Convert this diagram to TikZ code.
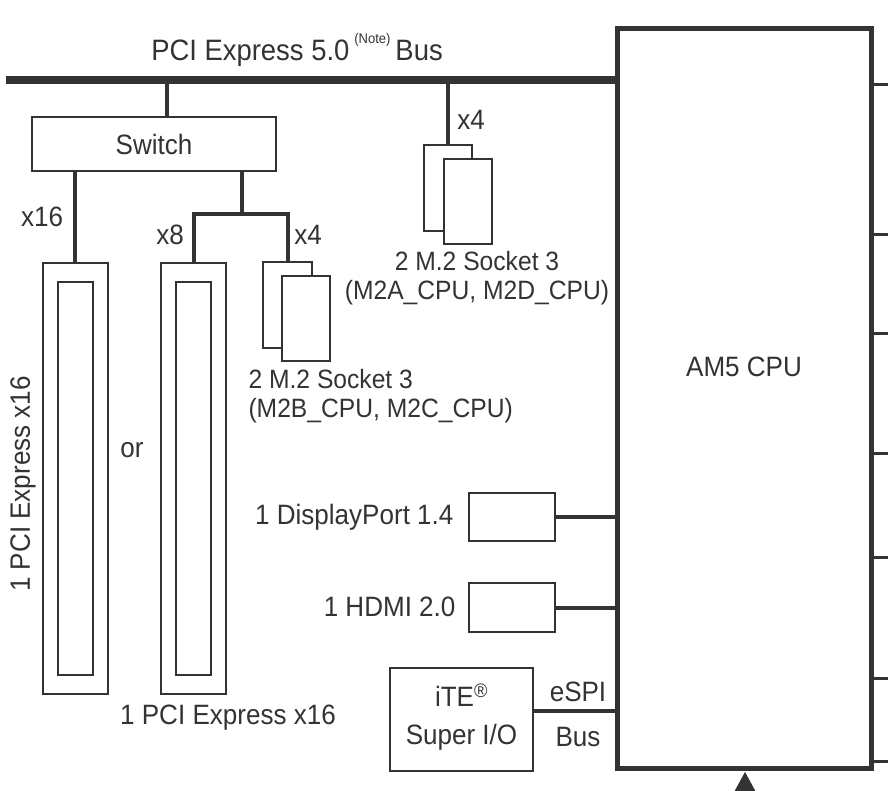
\documentclass[tikz,border=0pt]{standalone}
\usepackage{fontspec}
\setmainfont[FakeStretch=0.93]{Liberation Sans}
\definecolor{ink}{HTML}{333333}
\begin{document}
\begin{tikzpicture}[x=1pt,y=-1pt,
    every node/.style={font=\fontsize{28}{30}\selectfont, text=ink},
    small/.style={font=\fontsize{26.5}{29}\selectfont},
    box/.style={draw=ink, line width=2pt, fill=white, inner sep=0pt},
    link/.style={draw=ink, line width=4pt},
    busline/.style={draw=ink, line width=8pt},
    stub/.style={draw=ink, line width=3pt}]
    \useasboundingbox (0,0) rectangle (888,790);
    % CPU
    \node[box, line width=5pt, minimum width=254pt, minimum height=740pt] (cpu) at (744,398) {};
    \node (cpulbl) at (744,367) {AM5 CPU};
    \foreach \y in {84,234,333,453,557,678,761}
        \draw[stub] (cpu.east |- 0,\y) -- ++(20,0);
    % Bus
    \coordinate (busL) at (6,80);
    \draw[busline] (busL) -- (busL -| cpu.west);
    \node[font=\fontsize{29.5}{31}\selectfont] (bustitle) at (297,50) {PCI Express 5.0\,\raisebox{.55em}{\fontsize{14}{14}\selectfont(Note)}\,Bus};
    % Switch
    \node[box, minimum width=244pt, minimum height=54pt] (switch) at (154,144) {Switch};
    \coordinate (tapsw) at (167,80);
    \draw[link] (tapsw) -- (tapsw |- switch.north);
    % Slots
    \node[box, minimum width=65pt, minimum height=431pt] (slotA) at (75,478.5) {};
    \node[box, minimum width=35pt, minimum height=393pt] (slotAin) at (75,478.5) {};
    \node[box, minimum width=65pt, minimum height=431pt] (slotB) at (193.5,478.5) {};
    \node[box, minimum width=35pt, minimum height=393pt] (slotBin) at (193.5,478.5) {};
    % M.2 B/C
    \node[box, minimum width=49pt, minimum height=86pt] (m2bBack) at (287.5,305) {};
    \node[box, minimum width=48pt, minimum height=85pt] (m2bFront) at (306,318.5) {};
    \node[small, anchor=west, align=left] (m2bLbl) at (245,396) {2 M.2 Socket 3\\(M2B\_CPU, M2C\_CPU)};
    % Links from switch
    \draw[link] (slotA.north) -- (slotA.north |- switch.south);
    \coordinate (split) at (242,214);
    \draw[link] (split |- switch.south) -- (split);
    \draw[link] (slotB.north) -- (slotB.north |- split) -- (m2bBack.north |- split) -- (m2bBack.north);
    % M.2 A/D
    \coordinate (tapm2) at (448,80);
    \node[box, minimum width=48pt, minimum height=86pt] (m2aBack) at (448,188) {};
    \node[box, minimum width=48pt, minimum height=85pt] (m2aFront) at (468,201.5) {};
    \draw[link] (tapm2) -- (m2aBack.north);
    \node[small, align=center] (m2aLbl) at (477,278) {2 M.2 Socket 3\\(M2A\_CPU, M2D\_CPU)};
    % Lane labels
    \node (x16) at (42,217) {x16};
    \node (x8) at (170,235) {x8};
    \node (x4b) at (308,235) {x4};
    \node (x4a) at (471,120) {x4};
    \node (orlbl) at (132,450) {or};
    \node (slotBlbl) at (228,718) {1 PCI Express x16};
    \node[rotate=90] (slotAlbl) at (23,484) {1 PCI Express x16};
    % Display outputs
    \node[box, minimum width=86pt, minimum height=48pt] (dp) at (512,517) {};
    \node[anchor=east] (dplbl) at (457,517) {1 DisplayPort 1.4};
    \draw[link] (dp.east) -- (dp.east -| cpu.west);
    \node[box, minimum width=86pt, minimum height=49pt] (hdmi) at (512,607.5) {};
    \node[anchor=east] (hdmilbl) at (459,607) {1 HDMI 2.0};
    \draw[link] (hdmi.east) -- (hdmi.east -| cpu.west);
    % Super I/O
    \node[box, minimum width=143pt, minimum height=103pt] (sio) at (461.5,719.5) {};
    \node[align=center] (siolbl) at (461.5,717) {iTE\textsuperscript{\textregistered}\\[8pt]Super I/O};
    \coordinate (espiL) at (sio.east |- 0,711);
    \draw[link] (espiL) -- (espiL -| cpu.west);
    \node (espi) at (578,692) {eSPI};
    \node (espibus) at (578,737) {Bus};
    % Arrow
    \coordinate (arrtip) at (745,772);
    \fill[ink] (arrtip) -- ++(-12,22) -- ++(24,0) -- cycle;
\end{tikzpicture}
\end{document}
